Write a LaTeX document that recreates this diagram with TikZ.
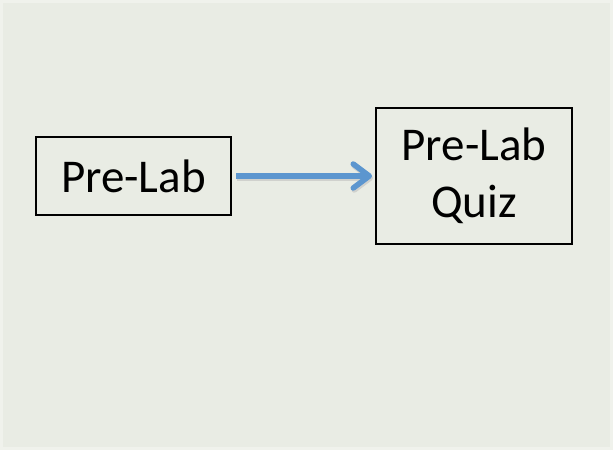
\documentclass[tikz,border=0pt]{standalone}
\usepackage{fontspec}
\setmainfont{Carlito}
\usepackage{xcolor}
\usepackage{tikz}
\usetikzlibrary{arrows.meta}

\definecolor{slidebg}{RGB}{233,236,228}
\definecolor{slideedge}{RGB}{240,242,236}
\definecolor{flowblue}{RGB}{92,150,207}

\tikzset{
  stepbox/.style={draw=black, line width=2pt, fill=none, inner sep=0pt,
    font=\fontsize{47}{57}\selectfont, align=center},
  flow/.style={draw=flowblue, line width=5.5pt,
    -{Straight Barb[length=16pt, width=24pt, round]}},
  flowshadow/.style={draw=black!30, opacity=0.45, line width=5.5pt,
    -{Straight Barb[length=16pt, width=24pt, round]}}
}

\begin{document}
\begin{tikzpicture}[x=1pt,y=1pt]
        % slide background
        \fill[slideedge] (0,0) rectangle (613,450);
        \fill[slidebg] (3,3) rectangle (610,447);
        \useasboundingbox (0,0) rectangle (613,450);

        \node[stepbox, minimum width=195pt, minimum height=78pt] (prelab) at (133.5,274) {Pre-Lab};
        \node[stepbox, minimum width=196pt, minimum height=136pt] (quiz) at (474,274) {Pre-Lab\\Quiz};

        \draw[flowshadow, transform canvas={shift={(1pt,-2pt)}}] ([xshift=4pt]prelab.east) -- ([xshift=-3pt]quiz.west);
        \draw[flow] ([xshift=4pt]prelab.east) -- ([xshift=-3pt]quiz.west);
    \end{tikzpicture}
\end{document}
